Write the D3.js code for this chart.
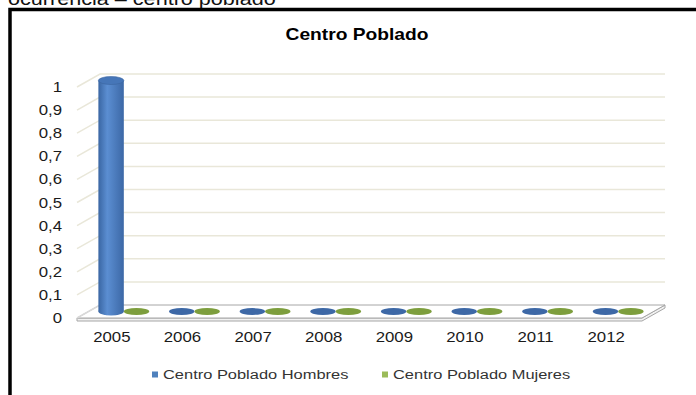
<!DOCTYPE html>
<html>
<head>
<meta charset="utf-8">
<script src="https://cdn.jsdelivr.net/npm/d3@7"></script>
<style>
  body { margin: 0; background: #fff; }
  svg { display: block; }
  text { font-family: Arial, "Liberation Sans", sans-serif; }
</style>
</head>
<body>
<svg width="696" height="395"></svg>
<script>
var years = ["2005", "2006", "2007", "2008", "2009", "2010", "2011", "2012"];
var hombres = [1, 0, 0, 0, 0, 0, 0, 0];
var mujeres = [0, 0, 0, 0, 0, 0, 0, 0];
var seriesNames = ["Centro Poblado Hombres", "Centro Poblado Mujeres"];
var yMax = 1;

var svg = d3.select("svg");
var stretch = 1.2; // text in the picture is a bit wide

var fmt = d3.formatLocale({decimal: ",", thousands: ".", grouping: [3], currency: ["", ""]}).format("~g");

// 3d box: front plane and the depth offset to the back wall
var dx = 23, dy = -13;
var x = d3.scaleBand().domain(years).range([77, 642]).paddingInner(0.28).paddingOuter(0.14);
var xs = d3.scaleBand().domain([0, 1]).range([0, x.bandwidth()]);
var y = d3.scaleLinear().domain([0, yMax]).range([318, 87]);
var ticks = y.ticks(10);

function label(g, px, py, s, anchor, size, weight, fill) {
  return g.append("text")
    .attr("transform", "translate(" + px + "," + py + ") scale(" + stretch + ",1)")
    .attr("text-anchor", anchor)
    .style("font-size", size + "px")
    .style("font-weight", weight)
    .attr("fill", fill)
    .text(s);
}

// caption above the frame, mostly cut off
label(svg, 8, 5, "ocurrencia \u2013 centro poblado", "start", 18, "normal", "#111");

// frame
svg.append("rect").attr("x", 10).attr("y", 9.5).attr("width", 800).attr("height", 500)
  .attr("fill", "#fff").attr("stroke", "#000").attr("stroke-width", 3.5);

label(svg, 357, 40, "Centro Poblado", "middle", 16, "bold", "#000");

var defs = svg.append("defs");
function cylGrad(id, c0, c1, c2) {
  var gr = defs.append("linearGradient").attr("id", id).attr("x1", 0).attr("x2", 1).attr("y1", 0).attr("y2", 0);
  gr.append("stop").attr("offset", "0%").attr("stop-color", c0);
  gr.append("stop").attr("offset", "35%").attr("stop-color", c1);
  gr.append("stop").attr("offset", "100%").attr("stop-color", c2);
}
cylGrad("gb", "#3a66a3", "#5b8ed2", "#3c68a6");
cylGrad("gg", "#6f8f35", "#9dc05a", "#728f38");

var colors = [
  {grad: "url(#gb)", top: "#4676b8", flat: "#3d68a6", key: "#4f81bd"},
  {grad: "url(#gg)", top: "#8db04a", flat: "#7d9e3d", key: "#9bbb59"}
];

// floor slab
var xl = x.range()[0], xr = x.range()[1], y0 = y(0);
var floor = svg.append("g").attr("stroke", "#a6a6a6").attr("stroke-width", 1).attr("stroke-linejoin", "round");
floor.append("path")
  .attr("d", "M" + xl + "," + (y0 + 3) + "L" + xr + "," + (y0 + 3) + "L" + (xr + dx) + "," + (y0 + dy + 3) +
    "L" + (xr + dx) + "," + (y0 + dy) + "L" + xr + "," + y0 + "L" + xl + "," + y0 + "Z")
  .attr("fill", "#f2f2f2");
floor.append("path")
  .attr("d", "M" + xl + "," + y0 + "L" + xr + "," + y0 + "L" + (xr + dx) + "," + (y0 + dy) +
    "L" + (xl + dx) + "," + (y0 + dy) + "Z")
  .attr("fill", "#fff");

// gridlines on side and back wall
var grid = svg.append("g").attr("stroke", "#e9e7d9").attr("stroke-width", 1.5).attr("fill", "none");
grid.selectAll("path").data(ticks.filter(function(t) { return t > 0; })).enter().append("path")
  .attr("d", function(t) {
    return "M" + xl + "," + y(t) + "L" + (xl + dx) + "," + (y(t) + dy) + "L" + (xr + dx) + "," + (y(t) + dy);
  });
grid.append("path").attr("d", "M" + xl + "," + y0 + "L" + (xl + dx) + "," + (y0 + dy)).attr("stroke", "#d9d9d9");

// y labels
var yl = svg.append("g");
ticks.forEach(function(t) {
  label(yl, 62, y(t) + 5, fmt(t), "end", 14, "normal", "#1a1a1a");
});

// x labels
var xlab = svg.append("g");
years.forEach(function(d) {
  label(xlab, x(d) - x.step() * 0.14 + x.step() / 2 - 0.5, 342, d, "middle", 14, "normal", "#1a1a1a");
});

// cylinders
var data = [];
years.forEach(function(d, i) {
  [hombres[i], mujeres[i]].forEach(function(v, s) {
    data.push({year: d, s: s, v: v});
  });
});

var bars = svg.append("g").selectAll("g").data(data).enter().append("g");
bars.each(function(d) {
  var g = d3.select(this);
  var w = xs.bandwidth();
  var cx = x(d.year) + xs(d.s) + w / 2 + dx / 2;
  var yb = y(0) + dy / 2, yt = y(d.v) + dy / 2;
  var c = colors[d.s];
  if (d.v > 0) {
    g.append("ellipse").attr("cx", cx).attr("cy", yb).attr("rx", w / 2).attr("ry", 4).attr("fill", c.grad);
    g.append("rect").attr("x", cx - w / 2).attr("y", yt).attr("width", w).attr("height", yb - yt).attr("fill", c.grad);
    g.append("ellipse").attr("cx", cx).attr("cy", yt).attr("rx", w / 2).attr("ry", 4)
      .attr("fill", c.top).attr("stroke", "#3a64a0").attr("stroke-width", 0.6);
  } else {
    g.append("ellipse").attr("cx", cx).attr("cy", yb).attr("rx", w / 2).attr("ry", 3.4).attr("fill", c.flat);
  }
});

// legend
var lg = svg.append("g");
var lx = [152, 382];
seriesNames.forEach(function(n, i) {
  lg.append("rect").attr("x", lx[i]).attr("y", 371.5).attr("width", 6).attr("height", 6).attr("fill", colors[i].key);
  label(lg, lx[i] + 11, 379, n, "start", 13.7, "normal", "#333");
});
</script>
</body>
</html>
